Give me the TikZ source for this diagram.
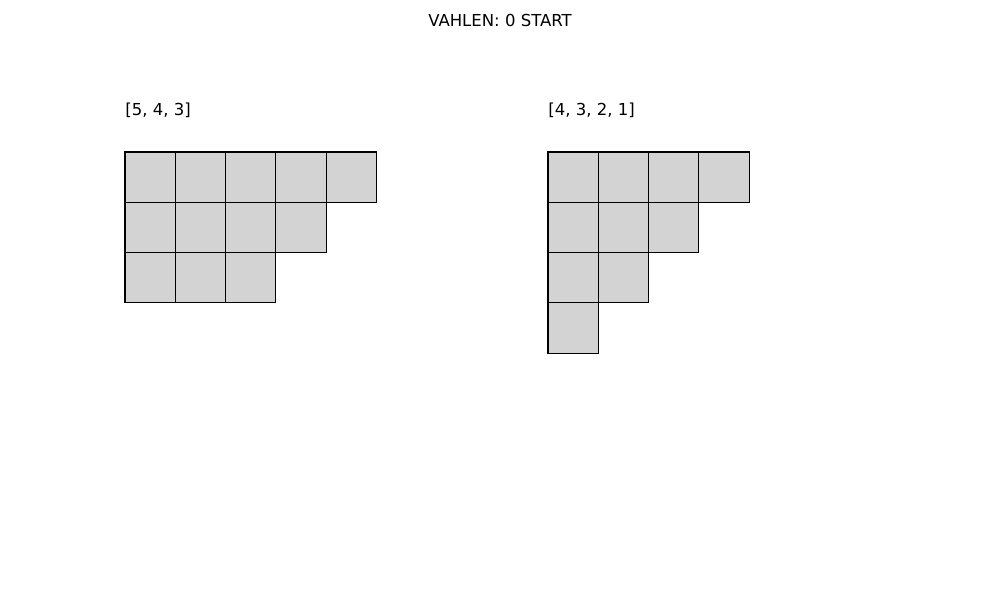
\documentclass[tikz,border=0pt]{standalone}
\usepackage{fontspec}
\setmainfont{DejaVu Sans}
\definecolor{cellgray}{HTML}{D3D3D3}

\begin{document}
\begin{tikzpicture}[x=0.02cm, y=-0.02cm,
        cell/.style={draw=black, fill=cellgray, line width=0.6pt, minimum size=1.006cm, inner sep=0pt},
        caption/.style={inner sep=0pt, font=\fontsize{9.4}{11}\selectfont}]
                    \useasboundingbox (0, 0) rectangle (1000, 600);

                    \node (title) [caption] at (500, 20) {VAHLEN: 0 START};
                    \node (labA) [caption, anchor=west] at (125, 110) {[5, 4, 3]};
                    \node (labB) [caption, anchor=west] at (548, 110) {[4, 3, 2, 1]};

                    % partition 5,4,3
                    \foreach \r/\n in {1/5, 2/4, 3/3}
                        \foreach \c in {1,...,\n}
                            \node (A\r\c) [cell] at ({125 + 50.3*(\c-0.5)}, {152 + 50.3*(\r-0.5)}) {};

                    % partition 4,3,2,1
                    \foreach \r/\n in {1/4, 2/3, 3/2, 4/1}
                        \foreach \c in {1,...,\n}
                            \node (B\r\c) [cell] at ({548 + 50.3*(\c-0.5)}, {152 + 50.3*(\r-0.5)}) {};
                \end{tikzpicture}
\end{document}
